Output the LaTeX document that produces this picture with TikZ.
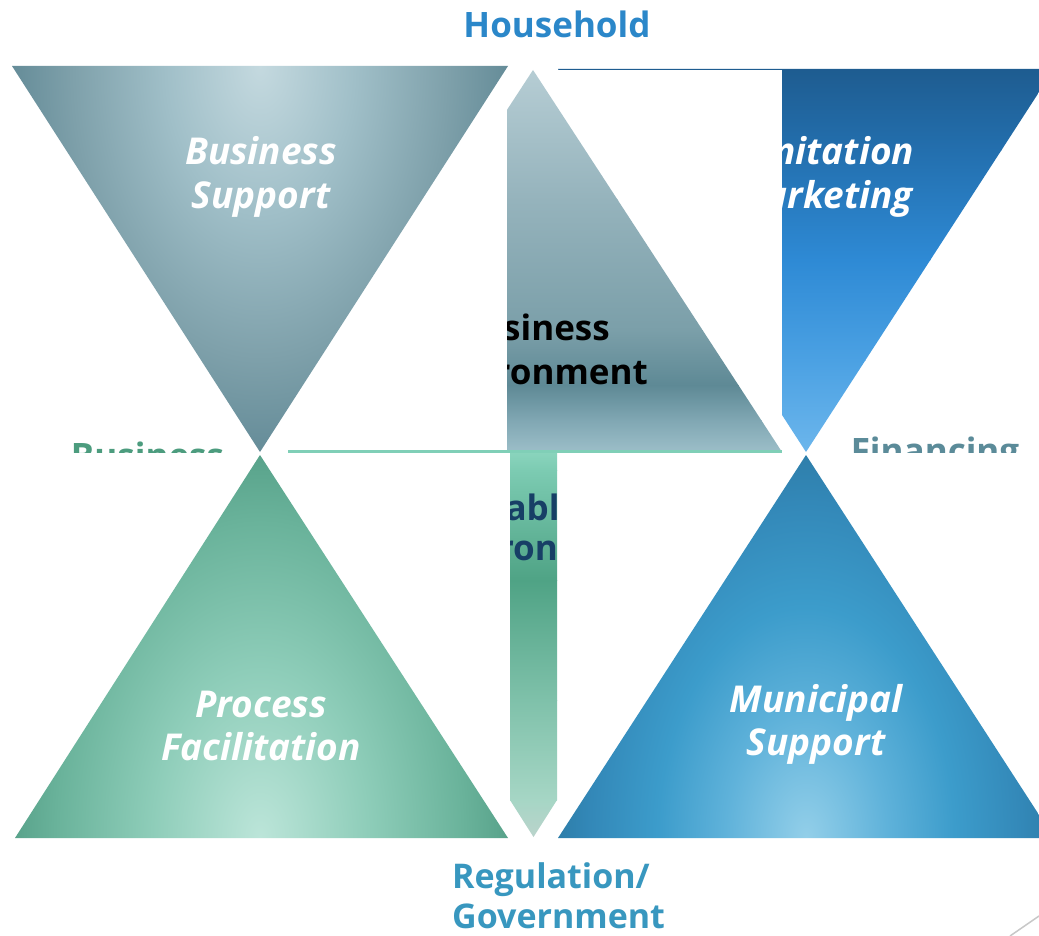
\documentclass[tikz,border=0pt]{standalone}
\usepackage{fontspec}
\setmainfont{Open Sans}
\definecolor{hhblue}{HTML}{2B87C9}
\definecolor{regblue}{HTML}{3897BF}
\definecolor{navy}{HTML}{173F66}
\definecolor{busgreen}{HTML}{4C9C7E}
\definecolor{fingray}{HTML}{5B8B99}
\definecolor{lgreen}{HTML}{80CFB7}
\definecolor{lgray}{HTML}{C8C8C8}
% top-right blue
\definecolor{trA}{HTML}{1E5C90}
\definecolor{trB}{HTML}{236FAE}
\definecolor{trC}{HTML}{2E8AD5}
\definecolor{trD}{HTML}{4BA1E3}
\definecolor{trE}{HTML}{6CB6EC}
% central gray
\definecolor{ctA}{HTML}{B6CDD4}
\definecolor{ctB}{HTML}{95B3BC}
\definecolor{ctC}{HTML}{7B9FA9}
\definecolor{ctD}{HTML}{5E8995}
\definecolor{ctE}{HTML}{80A7B3}
\definecolor{ctF}{HTML}{9DBFC9}
% bar green
\definecolor{brA}{HTML}{8AD4BD}
\definecolor{brB}{HTML}{7CCBB2}
\definecolor{brC}{HTML}{4FA385}
\definecolor{brD}{HTML}{7FC1AA}
\definecolor{brE}{HTML}{A6D6C5}
\definecolor{brF}{HTML}{BCD3CC}
% radial colours
\definecolor{tlA}{HTML}{C4D9DF}
\definecolor{tlB}{HTML}{A0BFC8}
\definecolor{tlC}{HTML}{7EA0AA}
\definecolor{tlD}{HTML}{5C8592}
\definecolor{blA}{HTML}{BCE5D9}
\definecolor{blB}{HTML}{8ECDB9}
\definecolor{blC}{HTML}{6AB39B}
\definecolor{blD}{HTML}{4F9A82}
\definecolor{bbA}{HTML}{93CFE9}
\definecolor{bbB}{HTML}{5FB2DA}
\definecolor{bbC}{HTML}{3C9CCB}
\definecolor{bbD}{HTML}{3388B8}
\definecolor{bbE}{HTML}{2A77A0}
\pgfdeclareradialshading{tlsh}{\pgfpoint{0bp}{0bp}}{color(0bp)=(tlA); color(8.75bp)=(tlB); color(17.5bp)=(tlC); color(25bp)=(tlD); color(50bp)=(tlD)}
\pgfdeclareradialshading{blsh}{\pgfpoint{0bp}{0bp}}{color(0bp)=(blA); color(10bp)=(blB); color(18.75bp)=(blC); color(25bp)=(blD); color(50bp)=(blD)}
\pgfdeclareradialshading{bbsh}{\pgfpoint{0bp}{0bp}}{color(0bp)=(bbA); color(7.5bp)=(bbB); color(13.75bp)=(bbC); color(20bp)=(bbD); color(25bp)=(bbE); color(50bp)=(bbE)}
\tikzset{
  txt/.style={inner sep=0pt, anchor=base, font=\fontsize{35}{42}\selectfont\bfseries},
  wtxt/.style={txt, text=white, font=\fontsize{37}{42}\selectfont\bfseries\itshape},
  btxt/.style={txt, text=black, anchor=base east, font=\fontsize{35}{42}\selectfont\bfseries},
}
\begin{document}
\begin{tikzpicture}[x=1pt,y=-1pt]
\useasboundingbox (0,0) rectangle (1039,936);
\fill[white] (0,0) rectangle (1039,936);

% top-right triangle (Sanitation Marketing)
\begin{scope}
  \clip (558,69) -- (1054,69) -- (806,452) -- cycle;
  \shade[top color=trA,bottom color=trB] (540,68.5) rectangle (1060,150.5);
  \shade[top color=trB,bottom color=trC] (540,150) rectangle (1060,260.5);
  \shade[top color=trC,bottom color=trD] (540,260) rectangle (1060,360.5);
  \shade[top color=trD,bottom color=trE] (540,360) rectangle (1060,453);
\end{scope}
\node[wtxt] (san1) at (823,165) {Sanitation};
\node[wtxt] (san2) at (823,209) {Marketing};
\fill[white] (558,70) rectangle (782,453);

% central triangle (Business Environment)
\begin{scope}
  \clip (507,60) rectangle (782,452);
  \clip (533,70) -- (782,452) -- (284,452) -- cycle;
  \shade[top color=ctA,bottom color=ctB] (500,69) rectangle (790,200.5);
  \shade[top color=ctB,bottom color=ctC] (500,200) rectangle (790,330.5);
  \shade[top color=ctC,bottom color=ctD] (500,330) rectangle (790,385.5);
  \shade[top color=ctD,bottom color=ctE] (500,385) rectangle (790,420.5);
  \shade[top color=ctE,bottom color=ctF] (500,420) rectangle (790,453);
\end{scope}
\begin{scope}
  \clip (507,60) rectangle (782,452);
  \node[btxt] (be1) at (610,340) {Business};
  \node[btxt] (be2) at (648,384) {Environment};
\end{scope}

% top-left triangle (Business Support)
\begin{scope}
  \clip (12,66) -- (508,66) -- (260,452) -- cycle;
  \shade[shading=tlsh] (260,66) ellipse (270pt and 420pt);
\end{scope}
\node[wtxt] (bs1) at (261,165) {Business};
\node[wtxt] (bs2) at (261,209) {Support};

% half-hidden labels
\begin{scope}
  \clip (0,400) rectangle (1039,452);
  \node[txt, text=busgreen] (bus) at (147.5,468) {Business};
  \node[txt, text=fingray] (fin) at (935,463) {Financing};
\end{scope}

% thin green line
\coordinate (ls) at (288,451.5);
\coordinate (le) at (782,451.5);
\draw[line width=3pt, lgreen] (ls) -- (le);

% bottom-left triangle (Process Facilitation)
\begin{scope}
  \clip (15,838) -- (508,838) -- (260,455) -- cycle;
  \shade[shading=blsh] (260,838) ellipse (270pt and 420pt);
\end{scope}
\node[wtxt] (pf1) at (261,717) {Process};
\node[wtxt] (pf2) at (261,760) {Facilitation};

% bottom-right triangle (Municipal Support)
\begin{scope}
  \clip (558,838) -- (1054,838) -- (806,455) -- cycle;
  \shade[shading=bbsh] (806,838) ellipse (270pt and 420pt);
\end{scope}
\node[wtxt] (ms1) at (816,712) {Municipal};
\node[wtxt] (ms2) at (816,755) {Support};

% vertical green arrow bar (Enabling Environment)
\begin{scope}
  \clip (510,453) -- (557,453) -- (557,800) -- (533.5,837) -- (510,800) -- cycle;
  \shade[top color=brA,bottom color=brB] (505,452) rectangle (562,470.5);
  \shade[top color=brB,bottom color=brC] (505,470) rectangle (562,580.5);
  \shade[top color=brC,bottom color=brD] (505,580) rectangle (562,700.5);
  \shade[top color=brD,bottom color=brE] (505,700) rectangle (562,800.5);
  \shade[top color=brE,bottom color=brF] (505,800) rectangle (562,840);
  \node[txt, text=navy] (en1) at (538,520) {Enabling};
  \node[txt, text=navy] (en2) at (538,560) {Environment};
\end{scope}

% titles
\node[txt, text=hhblue] (hh) at (557,38) {Household};
\node[txt, text=regblue, anchor=base west, font=\fontsize{34}{42}\selectfont\bfseries] (rg1) at (452,888) {Regulation/};
\node[txt, text=regblue, anchor=base west, font=\fontsize{34}{42}\selectfont\bfseries] (rg2) at (452,928) {Government};

% slide decoration
\coordinate (g1) at (1010,936);
\coordinate (g2) at (1039,916);
\draw[line width=1.5pt, lgray] (g1) -- (g2);
\end{tikzpicture}
\end{document}
